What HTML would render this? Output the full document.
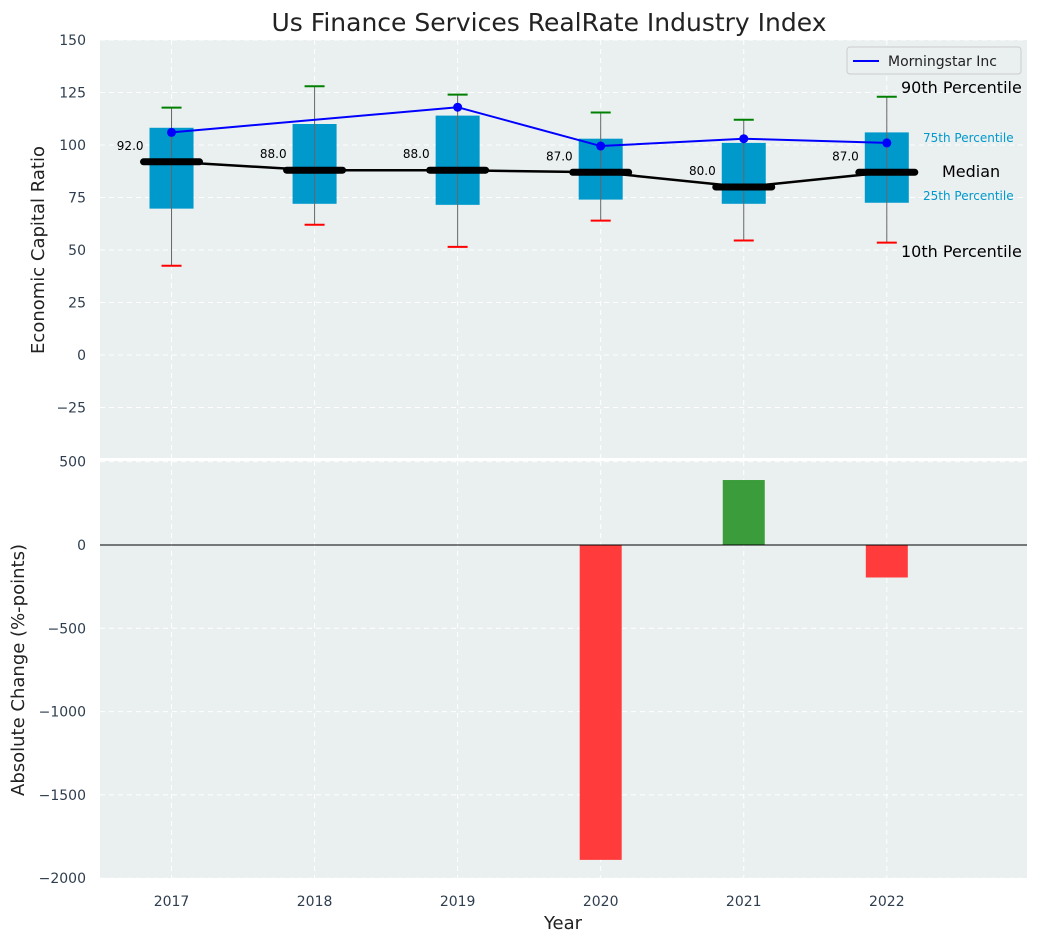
<!DOCTYPE html>
<html><head><meta charset="utf-8"><style>
body{margin:0;background:#fff;font-family:"Liberation Sans","DejaVu Sans",sans-serif}
svg text{font-family:"DejaVu Sans","Liberation Sans",sans-serif}
</style></head><body>
<svg id="c" width="1039" height="942" xmlns="http://www.w3.org/2000/svg"></svg>
<script>
const years=['2017','2018','2019','2020','2021','2022'];
const q1=[69.7,72,71.5,74,72,72.5];
const q3=[108.2,110,114,103,101,106];
const p10=[42.5,62,51.5,64,54.5,53.5];
const p90=[117.8,128,124,115.5,112,123];
const medians=[92,88,88,87,80,87];
const morningstar=[106,null,118,99.5,103,101];
const changes=[0,0,0,-1890,390,-195];
const topTicks=[150,125,100,75,50,25,0,-25];
const botTicks=[500,0,-500,-1000,-1500,-2000];

const NS='http://www.w3.org/2000/svg';
const svg=document.getElementById('c');
function el(t,a,p){const e=document.createElementNS(NS,t);for(const k in a)e.setAttribute(k,a[k]);(p||svg).appendChild(e);return e;}
const L=100,R=1027;
const x=i=>L+(i+0.5)*(R-L)/6.48;
const yT=v=>40+(150-v)*2.1;
const yB=v=>545-v*(83.3/500);

// backgrounds
let b1=el('rect',{x:L,y:40,width:R-L,height:418,fill:'#eaeff0'});

let b2=el('rect',{x:L,y:461,width:R-L,height:417,fill:'#eaeff0'});


// grid
years.forEach((y,i)=>{
  el('line',{x1:x(i),x2:x(i),y1:40,y2:458,stroke:'#fff','stroke-dasharray':'5,4'});
  el('line',{x1:x(i),x2:x(i),y1:461,y2:878,stroke:'#fff','stroke-dasharray':'5,4'});
  let t=el('text',{x:x(i),y:906,'text-anchor':'middle','font-size':14,fill:'#2f3e4e'});t.textContent=y;
  
});
topTicks.forEach(v=>{
  el('line',{x1:L,x2:R,y1:yT(v),y2:yT(v),stroke:'#fff','stroke-dasharray':'5,4'});
  let t=el('text',{x:86,y:yT(v)+5,'text-anchor':'end','font-size':14,fill:'#2f3e4e'});t.textContent=v<0?'\u2212'+(-v):v;
  
});
botTicks.forEach(v=>{
  el('line',{x1:L,x2:R,y1:yB(v),y2:yB(v),stroke:'#fff','stroke-dasharray':'5,4'});
  let t=el('text',{x:86,y:yB(v)+5,'text-anchor':'end','font-size':14,fill:'#2f3e4e'});t.textContent=v<0?'\u2212'+(-v):v;
  
});

// boxes
years.forEach((y,i)=>{
  const cx=x(i),w=44;
  let bx=el('rect',{x:cx-w/2,y:yT(q3[i]),width:w,height:yT(q1[i])-yT(q3[i]),fill:'#0099cc'});
  
  let wl=el('line',{x1:cx,x2:cx,y1:yT(p90[i]),y2:yT(p10[i]),stroke:'#666','stroke-width':1});
  
  el('line',{x1:cx-10,x2:cx+10,y1:yT(p90[i]),y2:yT(p90[i]),stroke:'green','stroke-width':2});
  el('line',{x1:cx-10,x2:cx+10,y1:yT(p10[i]),y2:yT(p10[i]),stroke:'red','stroke-width':2});
});
// median line
let mp=medians.map((m,i)=>x(i)+','+yT(m)).join(' ');
let ml=el('polyline',{points:mp,fill:'none',stroke:'#000','stroke-width':2.5});

medians.forEach((m,i)=>{
  let s=el('line',{x1:x(i)-28,x2:x(i)+28,y1:yT(m),y2:yT(m),stroke:'#000','stroke-width':7,'stroke-linecap':'round'});
  
  let t=el('text',{x:x(i)-28,y:yT(m)-12,'text-anchor':'end','font-size':12,fill:'#000'});t.textContent=m.toFixed(1);
  
});
// morningstar
let pts=[];morningstar.forEach((v,i)=>{if(v!=null)pts.push(x(i)+','+yT(v));});
let ms=el('polyline',{points:pts.join(' '),fill:'none',stroke:'#0000ff','stroke-width':2});

morningstar.forEach((v,i)=>{if(v!=null){let c=el('circle',{cx:x(i),cy:yT(v),r:4.5,fill:'#0000ff'});
  }});

// annotations
[['90th Percentile',901,93,16,'#000'],['75th Percentile',923,142,12,'#0099cc'],['Median',942,177,16,'#000'],['25th Percentile',923,200,12,'#0099cc'],['10th Percentile',901,257,16,'#000']].forEach(a=>{
  let t=el('text',{x:a[1],y:a[2],'font-size':a[3],fill:a[4]});t.textContent=a[0];
  
});
// legend
let lg=el('g',{});
el('rect',{x:847,y:47,width:174,height:27,fill:'#eaeff0',stroke:'#ccc',rx:3},lg);
el('line',{x1:853,x2:879,y1:61,y2:61,stroke:'#0000ff','stroke-width':2},lg);
let lt=el('text',{x:888,y:66,'font-size':14,fill:'#222'},lg);lt.textContent='Morningstar Inc';

// bars
changes.forEach((v,i)=>{
  if(v===0)return;
  let r=el('rect',{x:x(i)-21,y:Math.min(yB(0),yB(v)),width:42,height:Math.abs(yB(v)-yB(0)),fill:v<0?'#ff3b3b':'#3a9c3a'});
  
});
el('line',{x1:L,x2:R,y1:yB(0),y2:yB(0),stroke:'#000','stroke-width':1});

// titles
let ti=el('text',{x:549,y:31,'text-anchor':'middle','font-size':25,fill:'#222'});ti.textContent='Us Finance Services RealRate Industry Index';

let yt=el('text',{x:0,y:0,'text-anchor':'middle','font-size':18,fill:'#222',transform:'translate(44,250) rotate(-90)'});yt.textContent='Economic Capital Ratio';

let yb=el('text',{x:0,y:0,'text-anchor':'middle','font-size':18,fill:'#222',transform:'translate(24,670) rotate(-90)'});yb.textContent='Absolute Change (%-points)';

let xt=el('text',{x:563,y:929,'text-anchor':'middle','font-size':18,fill:'#222'});xt.textContent='Year';

</script>
</body></html>
